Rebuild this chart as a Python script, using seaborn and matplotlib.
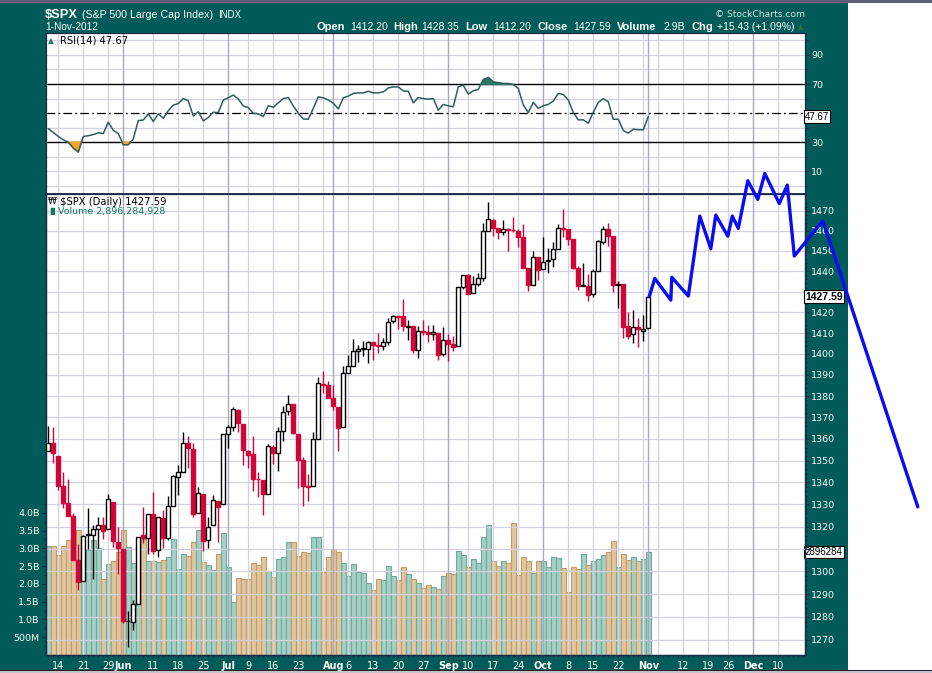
import numpy as np
import pandas as pd
import matplotlib
matplotlib.use("Agg")
import matplotlib.pyplot as plt
import matplotlib.transforms as mtrans
from matplotlib.patches import Rectangle
from matplotlib.ticker import FixedLocator, NullFormatter
import seaborn as sns

# ---------------------------------------------------------------- data
holidays = ["2012-05-28", "2012-07-04", "2012-09-03", "2012-10-29",
            "2012-10-30", "2012-11-22", "2012-12-25"]
prev_close = 1354.58

opens = [1354.58, 1358.11, 1351.93, 1338.36, 1330.78, 1324.82, 1305.05, 1295.73, 1316.09, 1316.02,
         1318.72, 1320.81, 1318.90, 1331.25, 1313.09,
         1309.87, 1278.29, 1277.82, 1285.61, 1316.15, 1314.99, 1325.72, 1309.40, 1324.02, 1314.88,
         1329.19, 1342.42, 1344.83, 1357.98, 1355.43, 1325.92, 1334.90, 1314.09, 1320.71, 1331.52, 1330.12,
         1362.33, 1365.75, 1373.72, 1367.09, 1354.66, 1352.96, 1341.40, 1341.29, 1334.81, 1356.50,
         1353.68, 1363.58, 1373.01, 1376.51, 1362.34, 1350.52, 1338.35, 1338.17, 1360.05, 1385.94, 1385.27,
         1379.32, 1375.13, 1365.45, 1391.04, 1394.46, 1401.23, 1402.26, 1402.58, 1405.87, 1404.36,
         1403.89, 1405.57, 1415.84, 1417.85, 1418.13, 1413.09, 1413.49, 1401.99, 1411.13, 1410.44,
         1409.32, 1410.08, 1400.07,
         1406.54, 1404.94, 1403.74, 1432.12, 1437.92, 1429.13, 1433.56, 1436.56, 1460.07, 1465.42,
         1461.19, 1459.50, 1461.05, 1460.34, 1459.76, 1456.94, 1441.60, 1433.36, 1447.13,
         1440.90, 1444.99, 1446.05, 1451.08, 1461.40, 1460.93, 1455.90, 1441.48, 1432.82, 1432.84,
         1428.75, 1440.31, 1454.22, 1460.94, 1457.34, 1433.21, 1433.74, 1413.20, 1409.74, 1412.97,
         1410.99, 1412.20]
highs = [1365.88, 1365.66, 1351.93, 1344.94, 1341.78, 1326.36, 1312.24, 1316.39, 1328.49, 1320.71,
         1324.14, 1324.20, 1334.93, 1331.25, 1319.74,
         1309.87, 1282.55, 1287.62, 1315.13, 1329.05, 1325.81, 1335.52, 1324.31, 1327.28, 1333.68,
         1343.32, 1348.22, 1363.46, 1361.57, 1358.27, 1337.82, 1334.90, 1324.24, 1334.40, 1331.52, 1362.17,
         1366.35, 1374.81, 1373.85, 1367.09, 1354.87, 1361.54, 1345.00, 1341.29, 1357.70, 1357.26,
         1365.36, 1375.26, 1380.39, 1376.51, 1362.34, 1351.53, 1343.98, 1363.13, 1389.19, 1391.74, 1387.16,
         1385.03, 1375.13, 1394.16, 1399.63, 1407.14, 1404.14, 1405.95, 1405.98, 1405.87, 1410.03,
         1407.73, 1417.44, 1418.71, 1418.13, 1426.68, 1416.12, 1413.49, 1413.46, 1416.17, 1413.63,
         1413.95, 1410.08, 1413.09,
         1409.31, 1408.81, 1432.12, 1437.92, 1438.74, 1437.76, 1439.15, 1463.76, 1474.51, 1465.63,
         1461.47, 1465.15, 1461.23, 1467.07, 1460.72, 1463.24, 1441.60, 1450.20, 1447.13,
         1457.14, 1451.52, 1454.30, 1463.14, 1470.96, 1460.93, 1455.90, 1442.52, 1443.90, 1438.43,
         1441.31, 1455.51, 1462.20, 1464.02, 1457.34, 1435.46, 1433.74, 1420.04, 1421.12, 1417.09,
         1418.76, 1428.35]
lows = [1354.58, 1348.89, 1336.61, 1328.41, 1324.79, 1304.86, 1291.98, 1295.73, 1310.04, 1296.53,
        1310.50, 1314.23, 1318.90, 1310.76, 1298.90,
        1277.25, 1266.74, 1274.16, 1285.61, 1312.68, 1307.77, 1307.73, 1306.62, 1310.51, 1314.14,
        1329.19, 1334.46, 1344.83, 1346.45, 1324.41, 1325.92, 1309.27, 1310.30, 1320.71, 1313.29, 1330.12,
        1355.70, 1363.53, 1363.02, 1348.03, 1346.65, 1336.27, 1333.25, 1325.41, 1334.81, 1348.51,
        1345.07, 1358.96, 1371.21, 1362.19, 1337.56, 1329.24, 1331.50, 1338.17, 1360.05, 1381.37, 1379.17,
        1373.35, 1354.65, 1365.45, 1391.04, 1394.46, 1396.13, 1398.80, 1395.62, 1397.32, 1400.60,
        1401.83, 1404.15, 1414.67, 1412.12, 1410.86, 1406.78, 1400.50, 1398.04, 1409.11, 1405.59,
        1406.57, 1397.01, 1398.96,
        1396.56, 1401.25, 1403.74, 1431.45, 1428.98, 1429.13, 1432.99, 1435.34, 1460.07, 1457.55,
        1456.13, 1457.88, 1449.98, 1459.51, 1452.06, 1441.59, 1430.53, 1433.36, 1435.60,
        1440.90, 1439.01, 1441.99, 1451.08, 1456.89, 1453.10, 1441.18, 1430.64, 1432.82, 1425.53,
        1427.24, 1440.31, 1453.35, 1452.63, 1429.85, 1422.06, 1407.56, 1407.10, 1405.14, 1403.28,
        1405.95, 1412.20]
closes = [1357.99, 1353.39, 1338.35, 1330.66, 1324.80, 1304.86, 1295.22, 1315.99, 1316.63, 1318.86,
          1320.68, 1317.82, 1332.42, 1313.32, 1310.33,
          1278.04, 1278.18, 1285.50, 1315.13, 1314.99, 1325.66, 1308.93, 1324.18, 1314.88, 1329.10,
          1342.84, 1344.78, 1357.98, 1355.69, 1325.51, 1335.02, 1313.72, 1319.99, 1331.85, 1329.04, 1362.16,
          1365.51, 1374.02, 1367.58, 1354.68, 1352.46, 1341.47, 1341.45, 1334.76, 1356.78, 1353.64,
          1363.67, 1372.78, 1376.51, 1362.66, 1350.52, 1338.31, 1337.89, 1360.02, 1385.97, 1385.30, 1379.32,
          1375.32, 1365.00, 1390.99, 1394.23, 1401.35, 1402.22, 1402.80, 1405.87, 1404.11, 1403.93,
          1405.53, 1415.51, 1418.16, 1418.13, 1413.17, 1413.49, 1402.08, 1411.13, 1410.44, 1409.30,
          1410.49, 1399.48, 1406.58,
          1404.94, 1403.44, 1432.12, 1437.92, 1429.08, 1433.56, 1436.56, 1459.99, 1465.77, 1461.19,
          1459.32, 1461.05, 1460.26, 1460.15, 1456.89, 1441.59, 1433.32, 1447.15, 1440.67,
          1444.49, 1445.75, 1450.99, 1461.40, 1460.93, 1455.88, 1441.48, 1432.56, 1432.84, 1428.59,
          1440.13, 1454.92, 1460.91, 1457.34, 1433.19, 1433.82, 1413.11, 1408.75, 1412.97, 1411.94,
          1412.16, 1427.59]
volume_b = [3.07, 3.07, 2.81, 3.07, 3.24, 3.20, 3.52, 2.88, 2.95, 3.24, 3.02, 2.14, 2.56, 2.64, 2.90,
            3.52, 3.05, 2.60, 3.22, 3.25, 2.64, 2.64, 2.62, 2.67, 2.75, 3.25, 2.41, 2.84, 2.79, 3.17,
            3.52, 2.62, 2.53, 2.39, 2.84, 3.42,
            2.47, 1.48, 2.16, 2.13, 2.13, 2.58, 2.52, 2.77, 2.36, 2.19, 2.69, 2.75, 3.17, 3.17, 2.79,
            2.89, 2.86, 3.31, 3.31, 2.34, 2.75,
            2.97, 2.89, 2.58, 2.22, 2.55, 2.34, 2.30, 2.02, 1.83, 2.13, 2.10, 2.50, 2.21, 2.10, 2.47,
            2.27, 2.13, 2.02, 1.88, 1.96, 1.90, 1.85, 2.21,
            2.31, 2.28, 2.93, 2.80, 2.47, 2.69, 2.59, 3.32, 3.65, 2.64, 2.50, 2.64, 2.59, 3.70, 2.24,
            2.75, 2.64, 2.30, 2.64,
            2.64, 2.47, 2.75, 2.72, 2.44, 1.77, 2.47, 2.41, 2.84, 2.52, 2.64, 2.69, 2.80, 2.89, 3.20,
            2.47, 2.84, 2.66, 2.75, 2.64, 2.69,
            2.90]
rsi14 = [39.4, 36.7, 34.0, 31.7, 30.0, 26.0, 23.3, 34.0, 34.5, 35.3, 36.5, 36.0, 43.8, 38.2, 36.0,
         28.3, 28.3, 32.4, 44.9, 45.3, 49.5, 44.3, 49.5, 46.5, 51.7, 55.5, 56.6, 60.0, 58.5, 48.0,
         51.0, 44.7, 47.0, 50.6, 50.4, 59.0,
         60.6, 62.4, 59.7, 54.9, 53.8, 49.9, 49.5, 47.6, 55.1, 54.0, 57.1, 60.0, 60.7, 54.9, 49.9,
         46.0, 45.8, 53.3, 61.2, 60.5, 59.0,
         56.8, 52.9, 60.5, 61.7, 63.5, 63.9, 63.9, 65.0, 63.9, 63.9, 64.6, 67.3, 68.0, 68.0, 65.2,
         65.0, 57.1, 60.7, 60.0, 59.6, 60.0, 52.0, 56.0,
         55.0, 54.4, 68.1, 69.2, 63.0, 65.4, 66.3, 73.1, 74.5, 71.5, 70.9, 70.4, 70.4, 69.7, 67.0,
         55.6, 50.4, 57.4, 53.3,
         55.1, 56.0, 58.3, 63.5, 62.8, 59.0, 50.4, 45.4, 45.4, 43.1, 50.6, 57.4, 60.0, 57.8, 45.8,
         45.8, 38.1, 36.3, 39.0, 38.6, 38.6,
         47.67]

# x-axis labels (trading date, label); "" = grid line without label
x_ticks = [("2012-05-14", "14"), ("2012-05-21", "21"), ("2012-05-29", "29"), ("2012-06-01", "Jun"),
           ("2012-06-11", "11"), ("2012-06-18", "18"), ("2012-06-25", "25"), ("2012-07-02", "Jul"),
           ("2012-07-09", "9"), ("2012-07-16", "16"), ("2012-07-23", "23"), ("2012-07-30", ""),
           ("2012-08-01", "Aug"), ("2012-08-06", "6"), ("2012-08-13", "13"), ("2012-08-20", "20"),
           ("2012-08-27", "27"), ("2012-09-04", "Sep"), ("2012-09-10", "10"), ("2012-09-17", "17"),
           ("2012-09-24", "24"), ("2012-10-01", "Oct"), ("2012-10-08", "8"), ("2012-10-15", "15"),
           ("2012-10-22", "22"), ("2012-10-31", ""), ("2012-11-01", "Nov"), ("2012-11-05", ""),
           ("2012-11-12", "12"), ("2012-11-19", "19"), ("2012-11-26", "26"), ("2012-12-03", "Dec"),
           ("2012-12-10", "10")]
month_names = ["Jun", "Jul", "Aug", "Sep", "Oct", "Nov", "Dec"]
price_ticks = list(range(1270, 1480, 10))
price_hidden = [1310, 1430]          # labels covered by the value boxes
rsi_ticks = [10, 30, 50, 70, 90]
rsi_hidden = [50]
vol_ticks_b = [0.5, 1.0, 1.5, 2.0, 2.5, 3.0, 3.5, 4.0]
vol_tick_labels = ["500M", "1.0B", "1.5B", "2.0B", "2.5B", "3.0B", "3.5B", "4.0B"]

# hand-drawn projection (trading-day position, price)
proj_pos = [120.2, 121.3, 124.5, 124.7, 128.0, 130.3, 132.5, 133.5, 135.9, 136.8, 138.0,
            139.9, 141.9, 143.3, 146.2, 147.8, 149.2, 154.9, 173.9]
proj_price = [1427.6, 1436.5, 1425.9, 1437.0, 1427.9, 1467.3, 1451.1, 1467.8, 1457.3, 1467.3,
              1461.2, 1485.1, 1475.7, 1488.8, 1473.6, 1482.9, 1447.5, 1465.0, 1328.9]

# ---------------------------------------------------------------- setup
sns.set_theme(style="white")
plt.rcParams['font.family'] = ['DejaVu Sans']

W, H = 932, 673
fig = plt.figure(figsize=(W / 100, H / 100), dpi=100)
fig.patch.set_facecolor('white')

TEAL = '#005b59'
NAVY = '#1b2a46'
GRID = '#d3d3df'
GRID_D = '#a9a9be'
RED = '#d0063a'


def frect(x0, y0, x1, y1, color):
    fig.patches.append(Rectangle((x0 / W, 1 - y1 / H), (x1 - x0) / W, (y1 - y0) / H,
                                 transform=fig.transFigure, facecolor=color,
                                 edgecolor='none', zorder=-10))


def ftxt(x, y, s, **kw):
    kw.setdefault('va', 'center')
    fig.text(x / W, 1 - y / H, s, **kw)


frect(0, 0, 932, 3, '#5e5e78')
frect(0, 3, 848, 670, TEAL)
frect(0, 670, 932, 671.2, '#202020')
frect(0, 671.2, 932, 673, '#c4c4cc')

cal = pd.bdate_range("2012-05-10", "2012-12-31")
cal = cal[~cal.isin(pd.to_datetime(holidays))]
cal_pos = pd.Series(np.arange(len(cal)), index=cal)

n = len(closes)
x = np.arange(n)
o = np.array(opens); h = np.array(highs); l = np.array(lows); c = np.array(closes)
prevc = np.concatenate([[prev_close], c[:-1]])
down = c < prevc
hollow = c >= o
vol = np.array(volume_b) * 1e9
rsi = np.array(rsi14)

tick_pos = [cal_pos[pd.Timestamp(d)] for d, _ in x_ticks]
tick_lab = [lab for _, lab in x_ticks]
XL = (-0.46, 151.34)

ax_rsi = fig.add_axes([46 / W, 1 - 194 / H, 759 / W, (194 - 33.3) / H])
ax_vol = fig.add_axes([46 / W, 1 - 655 / H, 759 / W, (655 - 194) / H])
ax_px = ax_vol.twinx()
ax_rsi.set_zorder(1)
ax_vol.set_zorder(2)
ax_px.set_zorder(3)
ax_px.patch.set_visible(False)


def vgrid(ax):
    for p, lab in zip(tick_pos, tick_lab):
        if lab in month_names:
            ax.axvline(p, color=GRID_D, lw=1.0, zorder=0.6)
        else:
            ax.axvline(p, color=GRID, lw=0.9, zorder=0.5)


# ---------------------------------------------------------------- RSI panel
ax_rsi.set_facecolor('white')
vgrid(ax_rsi)
for v in range(0, 101, 10):
    if v not in (30, 50, 70):
        ax_rsi.axhline(v, color=GRID, lw=0.9, zorder=0.5)
ax_rsi.axhline(70, color='black', lw=1.0, zorder=1)
ax_rsi.axhline(30, color='black', lw=1.0, zorder=1)
ax_rsi.axhline(50, color='black', lw=0.9, dashes=(7, 2.5, 1.5, 2.5), zorder=1)
ax_rsi.fill_between(x, rsi, 70, where=rsi >= 70, interpolate=True, color='#2d7a6a', zorder=2)
ax_rsi.fill_between(x, rsi, 30, where=rsi <= 30, interpolate=True, color='#f4a62a', zorder=2)
sns.lineplot(x=x, y=rsi, ax=ax_rsi, color='#2f5e5c', lw=1.1, legend=False, zorder=3)
ax_rsi.set_xlim(*XL)
ax_rsi.set_ylim(-5.5, 104.8)
ax_rsi.set_xticks([])
ax_rsi.yaxis.tick_right()
ax_rsi.set_yticks(rsi_ticks)
ax_rsi.set_yticklabels(['' if v in rsi_hidden else str(v) for v in rsi_ticks])
ax_rsi.yaxis.set_minor_locator(FixedLocator(list(range(0, 101, 10))))
ax_rsi.tick_params(axis='y', which='both', right=True, left=False, direction='out',
                   colors=NAVY, labelcolor='white', labelsize=6.8, length=3, width=0.8, pad=1.5)
ax_rsi.tick_params(axis='y', which='minor', length=2)
ax_rsi.set_xlabel(''); ax_rsi.set_ylabel('')
for s in ax_rsi.spines.values():
    s.set_color(NAVY); s.set_linewidth(0.9)
ax_rsi.text((60 - 46) / 759, 1 - (40.7 - 33.3) / 160.7, "RSI(14) 47.67", transform=ax_rsi.transAxes,
            fontsize=7.2, color='black', va='center', ha='left', zorder=6)
ax_rsi.text((48 - 46) / 759, 1 - (40.7 - 33.3) / 160.7, "\u25B2", transform=ax_rsi.transAxes,
            fontsize=5.5, color='#2d7a6a', va='center', ha='left', zorder=6)
ax_rsi.text(1.0, 47.67, "47.67", transform=mtrans.blended_transform_factory(ax_rsi.transAxes, ax_rsi.transData),
            fontsize=7, family='Liberation Sans', color='black', va='center', ha='left', clip_on=False,
            zorder=10, bbox=dict(boxstyle='square,pad=0.12', fc='white', ec='black', lw=0.8))

# ---------------------------------------------------------------- volume (base axes)
ax_vol.set_facecolor('white')
vol_face = np.where(down, '#dfc6a2', '#a5cfc5')
vol_edge = np.where(down, '#c49b63', '#6faa9c')
ax_vol.bar(x, vol, width=1.0, color=vol_face, edgecolor=vol_edge, lw=0.8, zorder=1)
ax_vol.set_ylim(0, 12.97e9)
ax_vol.set_yticks([v * 1e9 for v in vol_ticks_b])
ax_vol.set_yticklabels(vol_tick_labels)
ax_vol.yaxis.set_minor_locator(FixedLocator([v * 1e9 for v in np.arange(0.25, 4.3, 0.25)]))
ax_vol.tick_params(axis='y', which='both', left=True, right=False, direction='out', colors=NAVY,
                   labelcolor='white', labelsize=6.8, length=3, width=0.8, pad=1.5)
ax_vol.tick_params(axis='y', which='minor', length=1.5)
ax_vol.set_xticks(tick_pos)
ax_vol.set_xticklabels(tick_lab)
for t, lab in zip(ax_vol.get_xticklabels(), tick_lab):
    if lab in month_names:
        t.set_fontweight('bold')
ax_vol.xaxis.set_minor_locator(FixedLocator(list(range(0, 152))))
ax_vol.tick_params(axis='x', which='both', bottom=True, top=False, direction='out', colors=NAVY,
                   labelcolor='white', labelsize=7, length=2.5, width=0.8, pad=2)
ax_vol.tick_params(axis='x', which='minor', length=1.5)
for s in ax_vol.spines.values():
    s.set_color(NAVY); s.set_linewidth(0.9)
ax_vol.set_xlim(*XL)
ax_vol.text(1.0, 2.896e9, "2896284", transform=mtrans.blended_transform_factory(ax_vol.transAxes, ax_vol.transData),
            fontsize=7, family='Liberation Sans', color='black', va='center', ha='left', clip_on=False,
            zorder=10, bbox=dict(boxstyle='square,pad=0.12', fc='white', ec='black', lw=0.8))

# ---------------------------------------------------------------- price (twin axes)
ax_px.set_yscale('log')
ax_px.set_ylim(1263.5, 1478.4)
vgrid(ax_px)
for p in price_ticks:
    ax_px.axhline(p, color=GRID, lw=0.9, zorder=0.5)
edge = np.where(down, RED, 'black')
face = np.where(hollow, 'white', edge)
ax_px.vlines(x, l, h, colors=edge, lw=1.0, zorder=2)
ax_px.bar(x, np.maximum(np.abs(c - o), 0.25), bottom=np.minimum(o, c), width=0.78,
          color=face, edgecolor=edge, lw=1.0, zorder=3)
ax_px.set_yticks(price_ticks)
ax_px.set_yticklabels(['' if p in price_hidden else str(p) for p in price_ticks])
ax_px.yaxis.set_minor_locator(FixedLocator(list(range(1264, 1480, 2))))
ax_px.yaxis.set_minor_formatter(NullFormatter())
ax_px.tick_params(axis='y', which='both', right=True, left=False, labelright=True, labelleft=False,
                  direction='out', colors=NAVY, labelcolor='white', labelsize=6.8, length=3,
                  width=0.8, pad=1.5)
ax_px.tick_params(axis='y', which='minor', length=1.5)
for s in ax_px.spines.values():
    s.set_color(NAVY); s.set_linewidth(0.9)
ax_px.spines['top'].set_linewidth(1.3)

sns.lineplot(x=proj_pos, y=proj_price, ax=ax_px, color='#0c0cf2', lw=2.4, sort=False,
             estimator=None, legend=False, zorder=20)
ax_px.lines[-1].set_clip_on(False)
ax_px.set_xlim(*XL)
ax_px.set_ylabel('')

ax_px.text(1.0, 1427.59, "1427.59", transform=mtrans.blended_transform_factory(ax_px.transAxes, ax_px.transData),
           fontsize=7.5, family='Liberation Sans', fontweight='bold', color='black', va='center', ha='left',
           clip_on=False, zorder=10, bbox=dict(boxstyle='square,pad=0.12', fc='white', ec='black', lw=0.8))
ax_px.text((60 - 46) / 759, 1 - (201.7 - 194) / 461, "$SPX (Daily) 1427.59", transform=ax_px.transAxes,
           fontsize=7.2, color='black', va='center', ha='left', zorder=6)
ax_px.text((47.5 - 46) / 759, 1 - (201.7 - 194) / 461, "\u20A9", transform=ax_px.transAxes,
           fontsize=6.5, color='black', va='center', ha='left', zorder=6)
ax_px.text((58 - 46) / 759, 1 - (211.7 - 194) / 461, "Volume 2,896,284,928", transform=ax_px.transAxes,
           fontsize=6.8, color='#117a66', va='center', ha='left', zorder=6)
ax_px.text((47.5 - 46) / 759, 1 - (211.7 - 194) / 461, "\u2590\u258C", transform=ax_px.transAxes,
           fontsize=5, color='#117a66', va='center', ha='left', zorder=6)

# ---------------------------------------------------------------- header
ftxt(45, 14.5, "$SPX", fontsize=9.3, fontweight='bold', color='white', family='Liberation Sans')
ftxt(81.7, 14.5, "(S&P 500 Large Cap Index)", fontsize=7.7, color='white', family='Liberation Sans')
ftxt(218, 14.5, "INDX", fontsize=7, color='white', family='Liberation Sans')
ftxt(45, 27, "1-Nov-2012", fontsize=7.3, color='white', family='Liberation Sans')
ftxt(805, 14.5, "\u00A9 StockCharts.com", fontsize=6.6, color='#d5e3e3', ha='right')
header = [("Open", 316.7, True), ("1412.20", 350, False), ("High", 393.3, True), ("1428.35", 421.7, False),
          ("Low", 465, True), ("1412.20", 493.3, False), ("Close", 537.7, True), ("1427.59", 573.3, False),
          ("Volume", 617.3, True), ("2.9B", 663.3, False), ("Chg", 691.7, True),
          ("+15.43 (+1.09%)", 716.7, False)]
for s, xp, b in header:
    ftxt(xp, 27, s, fontsize=8 if b else 7.5, fontweight='bold' if b else 'normal', color='white',
         family='Liberation Sans')
ftxt(798, 27.5, "\u25B2", fontsize=5, color='#3c6e30')

fig.savefig("out.png", dpi=100, facecolor=fig.get_facecolor())
